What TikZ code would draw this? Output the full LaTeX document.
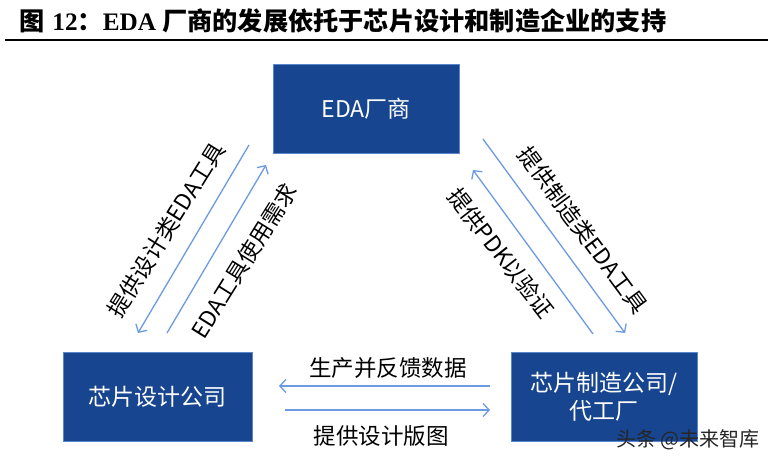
\documentclass[tikz,border=0pt]{standalone}
\usepackage{fontspec}
\setmainfont{Liberation Serif}
\newfontfamily\cjk{Noto Sans CJK SC}
\usetikzlibrary{arrows.meta}
\definecolor{boxblue}{HTML}{17458F}
\definecolor{boxedge}{HTML}{5A86CC}
\definecolor{arrowblue}{HTML}{6C9BE2}
\begin{document}
\begin{tikzpicture}[x=1pt,y=-1pt,
  box/.style={draw=boxedge, fill=boxblue, line width=0.8pt, minimum width=186pt, minimum height=89pt,
    text=white, font=\cjk\fontsize{23}{28}\selectfont, align=center, inner sep=0pt},
  flow/.style={draw=arrowblue, line width=1.3pt, -{Straight Barb[length=6pt,width=13pt]}},
  lab/.style={font=\cjk\fontsize{22.5}{25}\selectfont, inner sep=0pt, text=black}]
\useasboundingbox (0,0) rectangle (773,467);
\fill[white] (0,0) rectangle (773,467);
\node[anchor=west, inner sep=0pt, font=\fontsize{25.2}{27}\selectfont\bfseries] (title) at (19,21)
  {{\cjk\bfseries 图}\hspace{8pt}12{\cjk\bfseries ：}EDA {\cjk\bfseries 厂商的发展依托于芯片设计和制造企业的支持}};
\draw[line width=1.6pt] (5,40) -- (768,40);
\node[box] (eda) at (366,108.5) {EDA厂商};
\node[box, minimum width=189pt] (design) at (157.5,396.5) {芯片设计公司};
\node[box] (fab) at (604,396.5) {芯片制造公司/\\代工厂};
\coordinate (l1s) at (249,145); \coordinate (l1e) at (138,333);
\coordinate (l2s) at (167,333); \coordinate (l2e) at (266,165);
\coordinate (r1s) at (483,139); \coordinate (r1e) at (625,333);
\coordinate (r2s) at (593,334); \coordinate (r2e) at (473,170);
\coordinate (h1s) at (490,386); \coordinate (h1e) at (279,386);
\coordinate (h2s) at (285,410); \coordinate (h2e) at (490,410);
\draw[flow] (l1s) -- (l1e);
\draw[flow] (l2s) -- (l2e);
\draw[flow] (r1s) -- (r1e);
\draw[flow] (r2s) -- (r2e);
\draw[flow] (h1s) -- (h1e);
\draw[flow] (h2s) -- (h2e);
\node[lab, rotate=58] (t1) at (166,230) {提供设计类EDA工具};
\node[lab, rotate=58] (t2) at (244,261) {EDA工具使用需求};
\node[lab, rotate=-53.5] (t3) at (583,230) {提供制造类EDA工具};
\node[lab, rotate=-52] (t4) at (501,253) {提供PDK以验证};
\node[lab] (t5) at (388,368) {生产并反馈数据};
\node[lab] (t6) at (381,436) {提供设计版图};
\node[font=\cjk\fontsize{20}{22}\selectfont, text=black!85, inner sep=0pt] (wm) at (688,440) {头条 @未来智库};
\end{tikzpicture}
\end{document}
